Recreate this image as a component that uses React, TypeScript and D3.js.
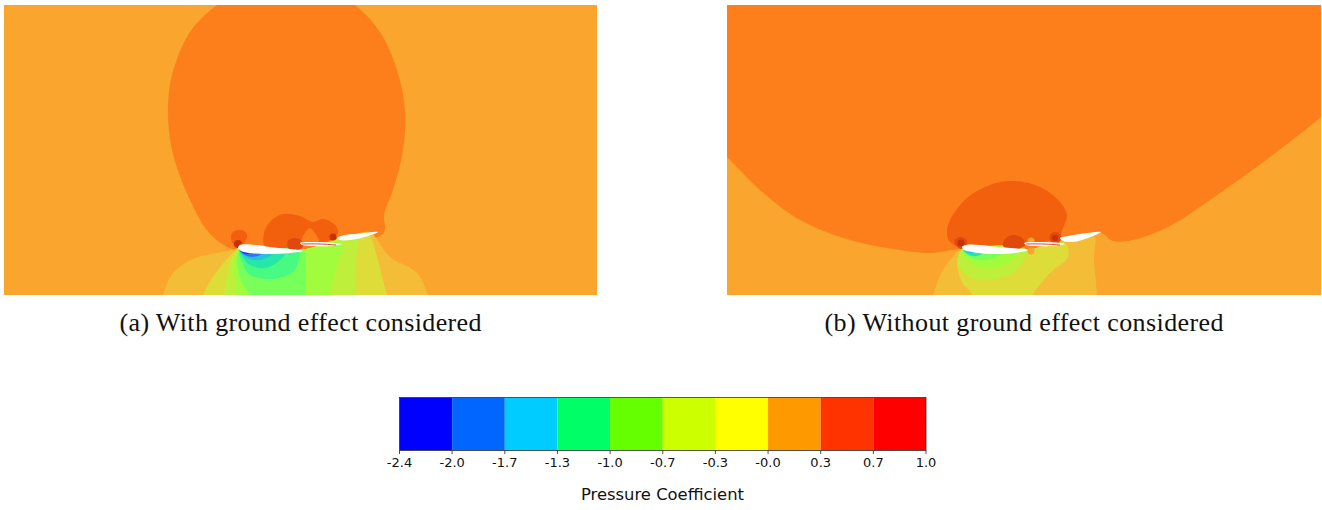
import React from "react";
import * as d3 from "d3";

type P = [number, number];
type Layer = { pts: P[]; fill: string };

// Colour bar
const barTicks = ["-2.4", "-2.0", "-1.7", "-1.3", "-1.0", "-0.7", "-0.3", "-0.0", "0.3", "0.7", "1.0"];
const barColors = ["#0000ff", "#0066ff", "#00ccff", "#00ff66", "#66ff00", "#ccff00", "#ffff00", "#ff9900", "#ff3300", "#ff0000"];
const barLabel = "Pressure Coefficient";
const captions = ["(a) With ground effect considered", "(b) Without ground effect considered"];

// Field colours
const BG = "#faa52e", OR = "#fc7f1e", DK = "#f25e0f", DK2 = "#e04808", CORE = "#c83006";
const PALE = "#f4bd37", YEL = "#dddc37", YG = "#bef03a", LIME = "#a0fc3c", GRN = "#78ff5a", GT = "#46fa82", TEAL = "#25e6aa", CY = "#25c4dc", BL = "#2a78ee", DB = "#1a30f0";

// Panel (a) contours, pixel positions
const aLobe: P[] = [[286, -22], [245, -12], [217, 5], [190, 32], [172, 75], [168, 110], [172, 150], [190, 200], [212, 236], [238, 251], [300, 254], [345, 244], [380, 236], [385, 230], [384, 215], [393, 190], [403, 150], [405, 110], [397, 70], [380, 32], [355, 5], [325, -12]];
const aPale: P[] = [[158, 312], [163, 295], [173, 273], [193, 259], [217, 253], [232, 250], [238, 248], [244, 248], [300, 250], [370, 232], [376, 238], [390, 257], [417, 273], [428, 295], [434, 312]];
const aYel: P[] = [[199, 312], [203, 295], [213, 277], [226, 260], [235, 251], [239, 248], [244, 248], [300, 250], [368, 233], [372, 240], [378, 260], [383, 280], [387, 295], [390, 312]];
const aYG: P[] = [[222, 312], [224, 295], [226, 280], [230, 262], [236, 251], [239, 248], [244, 248], [300, 250], [358, 235], [357, 250], [355, 275], [355, 295], [354, 312]];
const aLime: P[] = [[240, 312], [237, 295], [234, 275], [234, 262], [237, 252], [239, 248], [244, 248], [300, 250], [342, 243], [338, 262], [333, 280], [330, 295], [328, 312]];
const aGrn: P[] = [[257, 312], [250, 295], [241, 280], [237, 264], [238, 253], [240, 248], [245, 248], [303, 250], [306, 265], [306, 280], [305, 295], [304, 312]];
const aGT: P[] = [[240, 250], [243, 264], [250, 275], [273, 279], [293, 272], [298, 262], [298, 250]];
const aTeal: P[] = [[240, 250], [244, 259], [250, 265], [265, 268], [280, 260], [287, 250]];
const aCy: P[] = [[240, 250], [247, 258], [260, 260], [273, 253], [266, 250]];
const aBl: P[] = [[239, 249], [245, 255], [253, 257], [263, 253], [256, 250]];
const aDB: P[] = [[239, 249], [243, 253], [248, 254], [250, 251]];
const aBlob: P[] = [[265, 246], [264, 233], [270, 222], [283, 214], [300, 216], [313, 222], [323, 219], [335, 225], [338, 233], [332, 239], [320, 243], [318, 238], [310, 228], [303, 236], [300, 244], [285, 248]];
const aNose: P[] = [[232, 242], [231, 236], [233, 232], [238, 230], [244, 231], [247, 235], [245, 242], [238, 248]];
const aHill: P[] = [[288, 248], [288, 241], [294, 238], [301, 240], [303, 247], [296, 250]];
const aWingMain: P[] = [[238, 248], [240, 245], [255, 245], [270, 247], [303, 251], [290, 253], [267, 254], [250, 253], [241, 251]];
const aWing2: P[] = [[300, 243], [315, 242], [335, 243], [342, 244], [330, 246], [312, 246], [302, 245]];
const aWing3: P[] = [[337, 238], [345, 235], [357, 234], [378, 232], [365, 237], [350, 240], [340, 240]];
const aCores: [number, number, number][] = [[238, 244, 4], [333, 237, 3.5]];
const aRed: P[] = [[302, 244], [320, 244], [336, 245]];

// Panel (b) contours
const bLobe: P[] = [[695, 128], [727, 157], [760, 190], [800, 220], [850, 240], [900, 250], [930, 253], [962, 249], [1025, 252], [1100, 233], [1113, 241], [1133, 240], [1170, 226], [1210, 200], [1270, 157], [1321, 117], [1350, 90], [1350, -15], [695, -15]];
const bPale: P[] = [[928, 312], [933, 295], [943, 270], [958, 251], [962, 247], [968, 247], [1025, 250], [1093, 234], [1094, 260], [1097, 295], [1098, 312]];
const bYel: P[] = [[972, 312], [972, 295], [962, 282], [957, 263], [960, 251], [963, 247], [968, 247], [1025, 250], [1065, 243], [1068, 257], [1050, 273], [1032, 295], [1020, 312]];
const bYG: P[] = [[962, 250], [958, 263], [970, 277], [990, 280], [1010, 275], [1022, 263], [1027, 250]];
const bLime: P[] = [[962, 250], [967, 260], [983, 268], [1003, 265], [1015, 257], [1020, 250]];
const bGrn: P[] = [[963, 250], [972, 258], [987, 260], [1000, 255], [1007, 250]];
const bTeal: P[] = [[963, 250], [972, 256], [980, 255], [985, 251]];
const bCy: P[] = [[963, 249], [968, 253], [975, 252], [975, 250]];
const bBlob: P[] = [[947, 233], [950, 220], [967, 198], [990, 185], [1013, 181], [1040, 187], [1060, 202], [1067, 215], [1063, 228], [1058, 238], [1025, 244], [1000, 245], [962, 247], [950, 242]];
const bHill: P[] = [[1003, 246], [1006, 238], [1014, 235], [1022, 238], [1026, 244], [1015, 250]];
const bNose: P[] = [[955, 244], [955, 240], [961, 237], [967, 241], [966, 247], [961, 249]];
const bHill2: P[] = [[1050, 240], [1050, 235], [1055, 232], [1061, 235], [1061, 240], [1055, 244]];
const bWingMain: P[] = [[962, 247], [966, 245], [980, 245], [997, 247], [1028, 250], [1015, 253], [990, 254], [972, 252], [964, 250]];
const bWing2: P[] = [[1024, 243], [1040, 242], [1060, 243], [1065, 244], [1050, 246], [1035, 246], [1026, 245]];
const bWing3: P[] = [[1060, 238], [1068, 236], [1080, 234], [1101, 232], [1088, 238], [1073, 242], [1063, 241]];
const bCores: [number, number, number][] = [[961, 243, 3.5], [1055, 238, 3]];
const bLight: [number, number, number][] = [[1031, 241, 3.5], [1031, 251, 3.5]];
const bRed: P[] = [[1026, 244], [1044, 244], [1060, 245]];

const aLayers: Layer[] = [
  { pts: aLobe, fill: OR }, { pts: aPale, fill: PALE }, { pts: aYel, fill: YEL }, { pts: aYG, fill: YG },
  { pts: aLime, fill: LIME }, { pts: aGrn, fill: GRN }, { pts: aGT, fill: GT }, { pts: aTeal, fill: TEAL },
  { pts: aCy, fill: CY }, { pts: aBl, fill: BL }, { pts: aDB, fill: DB }, { pts: aBlob, fill: DK }, { pts: aNose, fill: DK }, { pts: aHill, fill: DK2 },
];
const bLayers: Layer[] = [
  { pts: bLobe, fill: OR }, { pts: bPale, fill: PALE }, { pts: bYel, fill: YEL }, { pts: bYG, fill: YG },
  { pts: bLime, fill: LIME }, { pts: bGrn, fill: GRN }, { pts: bTeal, fill: TEAL }, { pts: bCy, fill: CY },
  { pts: bBlob, fill: DK }, { pts: bHill, fill: DK2 }, { pts: bNose, fill: DK2 }, { pts: bHill2, fill: DK2 },
];

function Panel({ id, x0, x1, layers, wings, cores, lights, red }: { id: string; x0: number; x1: number; layers: Layer[]; wings: P[][]; cores: [number, number, number][]; lights: [number, number, number][]; red: P[] }) {
  const sx = d3.scaleLinear().domain([x0, x1]).range([x0, x1]);
  const sy = d3.scaleLinear().domain([5, 295]).range([5, 295]);
  const closed = d3.line<P>().x(d => sx(d[0])).y(d => sy(d[1])).curve(d3.curveCatmullRomClosed.alpha(0.5));
  const open = d3.line<P>().x(d => sx(d[0])).y(d => sy(d[1])).curve(d3.curveCatmullRom);
  return (
    <g clipPath={`url(#clip-${id})`}>
      <clipPath id={`clip-${id}`}><rect x={x0} y={5} width={x1 - x0} height={290} /></clipPath>
      <g filter="url(#soft)">
        <rect x={x0} y={5} width={x1 - x0} height={290} fill={BG} />
        {layers.map((l, i) => <path key={i} d={closed(l.pts) ?? ""} fill={l.fill} />)}
        {cores.map((c, i) => <circle key={i} cx={sx(c[0])} cy={sy(c[1])} r={c[2]} fill={CORE} />)}
        {lights.map((c, i) => <circle key={i} cx={sx(c[0])} cy={sy(c[1])} r={c[2]} fill={BG} />)}
        {wings.map((w, i) => <path key={i} d={closed(w) ?? ""} fill="#fff" />)}
        <path d={open(red) ?? ""} fill="none" stroke="#d03030" strokeWidth={0.9} />
      </g>
    </g>
  );
}

export default function App() {
  const bar = d3.scaleLinear().domain([0, barColors.length]).range([399.5, 926]);
  const serif = "'Liberation Serif', serif";
  return (
    <svg width={1322} height={510} style={{ position: "absolute", left: 0, top: 0, background: "#fff" }}>
      <defs>
        <filter id="soft" x="0" y="0" width="1" height="1"><feGaussianBlur stdDeviation="0.45" /></filter>
      </defs>
      <Panel id="a" x0={4} x1={597} layers={aLayers} wings={[aWingMain, aWing2, aWing3]} cores={aCores} lights={[]} red={aRed} />
      <Panel id="b" x0={727} x1={1321} layers={bLayers} wings={[bWingMain, bWing2, bWing3]} cores={bCores} lights={bLight} red={bRed} />
      <text x={300.5} y={330.5} textAnchor="middle" fontFamily={serif} fontSize={26} textLength={362} lengthAdjust="spacing" fill="#111">{captions[0]}</text>
      <text x={1024} y={330.5} textAnchor="middle" fontFamily={serif} fontSize={26} textLength={399} lengthAdjust="spacing" fill="#111">{captions[1]}</text>
      {barColors.map((c, i) => <rect key={c} x={bar(i)} y={397.5} width={bar(i + 1) - bar(i)} height={53} fill={c} />)}
      <rect x={399.5} y={397.5} width={526.5} height={53} fill="none" stroke="#333" strokeWidth={0.8} />
      {barTicks.map((t, i) => (
        <g key={t} transform={`translate(${bar(i)},450.5)`}>
          <line y2={3.5} stroke="#222" strokeWidth={0.8} />
          <text y={16.5} textAnchor="middle" fontFamily="'DejaVu Sans'" fontSize={13} fill="#111">{t}</text>
        </g>
      ))}
      <text x={662.5} y={499.5} textAnchor="middle" fontFamily="'DejaVu Sans'" fontSize={16.4} fill="#111">{barLabel}</text>
    </svg>
  );
}
